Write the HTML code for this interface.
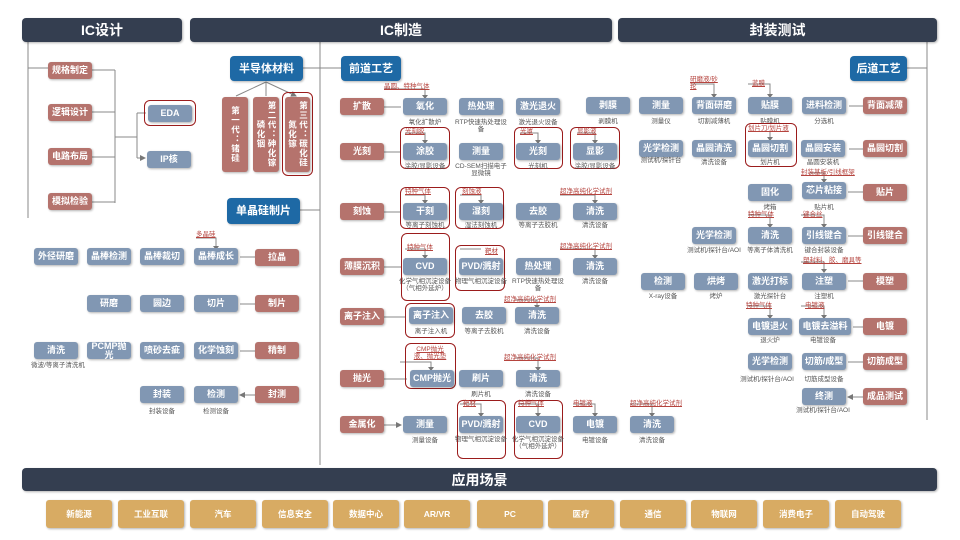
<!DOCTYPE html>
<html><head><meta charset="utf-8"><style>
body{margin:0;width:960px;height:540px;background:#fff;position:relative;overflow:hidden;font-family:"Liberation Sans","Noto Sans CJK SC",sans-serif}
div{position:absolute;box-sizing:border-box}
.h{background:#343e50;color:#fff;font-weight:bold;font-size:14px;border-radius:4px;display:flex;align-items:center;justify-content:center;box-shadow:1px 1px 2px rgba(0,0,0,.3)}
.b{background:#8197b3;color:#fff;font-weight:bold;font-size:9px;line-height:9px;border-radius:3px;display:flex;align-items:center;justify-content:center;text-align:center;box-shadow:1px 1px 2px rgba(0,0,0,.3);width:44px;height:17px;padding:0 2px}
.r{background:#b5736d}
.d{background:#1e69a5;font-size:11px;line-height:12px;border-radius:4px}
.s{color:#555;font-size:6.5px;line-height:7px;text-align:center;width:56px;margin-left:-6px}
.l{color:#b5443e;font-size:6.5px;line-height:7px;text-decoration:underline;white-space:nowrap}
.o{border:1.5px solid #9b1c1c;border-radius:6px}
.y{background:#d8ab63;color:#fff;font-weight:bold;font-size:8.5px;border-radius:3px;display:flex;align-items:center;justify-content:center;box-shadow:1px 1px 2px rgba(0,0,0,.3);top:500px;height:28px;width:66px}
.v{writing-mode:vertical-rl;font-size:8.5px;line-height:11px;padding:4px 0;letter-spacing:1px}
</style></head><body>
<svg width="960" height="540" style="position:absolute;left:0;top:0">
<defs><marker id="a" markerWidth="6" markerHeight="6" refX="5" refY="3" orient="auto"><path d="M0,0L6,3L0,6z" fill="#777"/></marker></defs>
<g stroke="#888" stroke-width="1" fill="none">
<path d="M28,42V218M28,68H48M92,70H115M92,112H115M92,157H115M92,202H115M115,70V203M115,137H137M137,113V158"/>
<path d="M137,113H146M137,158H145" marker-end="url(#a)"/>
<path d="M320,42V465M303,68H320M300,210H320M320,68H341M927,42V420M907,68H927"/>
<path d="M266,82L236,96M266,82V96M266,82L296,96" marker-end="url(#a)"/>
<path d="M255,257H240M255,304H240M255,351H240M255,395H240" marker-end="url(#a)"/>
<path d="M384,107H401M384,152H401M384,212H401M384,267H401M384,317H406M384,379H407M384,425H401" marker-end="url(#a)"/>
<path d="M863,106H849M863,149H849M863,192H848M863,236H848M863,281H848M863,327H853M863,362H848M863,397H848" marker-end="url(#a)"/>
<path d="M196,238H216V246M384,89H425V97M405,133H425V142M520,133H538V142M577,133H595V142M405,195H425V202M460,195H481V202M560,195H595V202M405,249H425V257M460,249H481M560,249H595V257M515,300H537V307M400,362H431V369M515,358H538V369M460,404H481V415M518,404H538V415M573,404H595V415M630,404H652V415M692,84H714V96M748,84H770V96M770,132V139M810,173H824V181M748,215H770V226M801,215H824V226M801,262H824V271M748,306H770V317M801,306H824V317"/>
</g>
<g fill="#777"><path d="M213,246l3,4l3,-4zM422,95l3,4l3,-4zM422,140l3,4l3,-4zM535,140l3,4l3,-4zM592,140l3,4l3,-4zM422,200l3,4l3,-4zM478,200l3,4l3,-4zM592,200l3,4l3,-4zM422,255l3,4l3,-4zM592,255l3,4l3,-4zM534,305l3,4l3,-4zM428,367l3,4l3,-4zM535,367l3,4l3,-4zM478,413l3,4l3,-4zM535,413l3,4l3,-4zM592,413l3,4l3,-4zM649,413l3,4l3,-4zM711,94l3,4l3,-4zM767,94l3,4l3,-4zM767,137l3,4l3,-4zM821,179l3,4l3,-4zM767,224l3,4l3,-4zM821,224l3,4l3,-4zM821,269l3,4l3,-4zM767,315l3,4l3,-4zM821,315l3,4l3,-4z"/></g>
</svg>

<div class="h" style="left:22px;top:18px;width:160px;height:24px">IC设计</div>
<div class="h" style="left:190px;top:18px;width:422px;height:24px">IC制造</div>
<div class="h" style="left:618px;top:18px;width:319px;height:24px">封装测试</div>
<div class="h" style="left:22px;top:468px;width:915px;height:23px">应用场景</div>

<div class="b r" style="left:48px;top:62px">规格制定</div>
<div class="b r" style="left:48px;top:104px">逻辑设计</div>
<div class="b r" style="left:48px;top:148px">电路布局</div>
<div class="b r" style="left:48px;top:193px">模拟检验</div>
<div class="o" style="left:144px;top:100px;width:52px;height:26px"></div>
<div class="b" style="left:148px;top:105px">EDA</div>
<div class="b" style="left:147px;top:151px">IP核</div>

<div class="b d" style="left:230px;top:56px;width:73px;height:25px">半导体材料</div>
<div class="b r v" style="left:222px;top:97px;width:26px;height:75px">第一代：锗硅</div>
<div class="b r v" style="left:253px;top:97px;width:26px;height:75px">第二代：砷化镓 磷化铟</div>
<div class="o" style="left:282px;top:92px;width:31px;height:84px"></div>
<div class="b r v" style="left:285px;top:97px;width:25px;height:75px">第三代：碳化硅 氮化镓</div>
<div class="b d" style="left:227px;top:198px;width:73px;height:26px">单晶硅制片</div>

<div class="l" style="left:196px;top:231px">多晶硅</div>
<div class="b" style="left:34px;top:248px">外径研磨</div>
<div class="b" style="left:87px;top:248px">晶棒检测</div>
<div class="b" style="left:140px;top:248px">晶棒裁切</div>
<div class="b" style="left:194px;top:248px">晶棒成长</div>
<div class="b r" style="left:255px;top:249px">拉晶</div>
<div class="b" style="left:87px;top:295px">研磨</div>
<div class="b" style="left:140px;top:295px">圆边</div>
<div class="b" style="left:194px;top:295px">切片</div>
<div class="b r" style="left:255px;top:295px">制片</div>
<div class="b" style="left:34px;top:342px">清洗</div>
<div class="s" style="left:28px;top:362px;width:60px;margin:0">微波/等离子清洗机</div>
<div class="b" style="left:87px;top:342px">PCMP抛光</div>
<div class="b" style="left:140px;top:342px">喷砂去疵</div>
<div class="b" style="left:194px;top:342px">化学蚀刻</div>
<div class="b r" style="left:255px;top:342px">精制</div>
<div class="b" style="left:140px;top:386px">封装</div>
<div class="s" style="left:140px;top:408px">封装设备</div>
<div class="b" style="left:194px;top:386px">检测</div>
<div class="s" style="left:194px;top:408px">检测设备</div>
<div class="b r" style="left:255px;top:386px">封测</div>

<div class="b d" style="left:341px;top:56px;width:60px;height:25px">前道工艺</div>
<div class="b r" style="left:340px;top:98px">扩散</div>
<div class="l" style="left:384px;top:83px">晶圆、特种气体</div>
<div class="b" style="left:403px;top:98px">氧化</div><div class="s" style="left:403px;top:119px">氧化扩散炉</div>
<div class="b" style="left:459px;top:98px">热处理</div><div class="s" style="left:459px;top:119px">RTP快速热处理设备</div>
<div class="b" style="left:516px;top:98px">激光退火</div><div class="s" style="left:516px;top:119px">激光退火设备</div>
<div class="b" style="left:586px;top:97px">剥膜</div><div class="s" style="left:586px;top:118px">剥膜机</div>
<div class="b" style="left:639px;top:97px">测量</div><div class="s" style="left:639px;top:118px">测量仪</div>

<div class="b r" style="left:340px;top:143px">光刻</div>
<div class="o" style="left:400px;top:127px;width:50px;height:42px"></div>
<div class="l" style="left:405px;top:128px">光刻胶</div>
<div class="b" style="left:403px;top:143px">涂胶</div><div class="s" style="left:403px;top:163px">涂胶/显影设备</div>
<div class="b" style="left:459px;top:143px">测量</div><div class="s" style="left:459px;top:163px">CD-SEM扫描电子显微镜</div>
<div class="o" style="left:514px;top:127px;width:49px;height:42px"></div>
<div class="l" style="left:520px;top:128px">光罩</div>
<div class="b" style="left:516px;top:143px">光刻</div><div class="s" style="left:516px;top:163px">光刻机</div>
<div class="o" style="left:570px;top:127px;width:50px;height:42px"></div>
<div class="l" style="left:577px;top:128px">显影液</div>
<div class="b" style="left:573px;top:143px">显影</div><div class="s" style="left:573px;top:163px">涂胶/显影设备</div>
<div class="b" style="left:639px;top:140px">光学检测</div><div class="s" style="left:639px;top:157px">测试机/探针台</div>
<div class="b" style="left:692px;top:140px">晶圆清洗</div><div class="s" style="left:692px;top:159px">清洗设备</div>

<div class="b r" style="left:340px;top:203px">刻蚀</div>
<div class="o" style="left:400px;top:187px;width:50px;height:42px"></div>
<div class="l" style="left:405px;top:188px">特种气体</div>
<div class="b" style="left:403px;top:203px">干刻</div><div class="s" style="left:403px;top:222px">等离子刻蚀机</div>
<div class="o" style="left:455px;top:187px;width:49px;height:42px"></div>
<div class="l" style="left:462px;top:188px">刻蚀液</div>
<div class="b" style="left:459px;top:203px">湿刻</div><div class="s" style="left:459px;top:222px">湿法刻蚀机</div>
<div class="b" style="left:516px;top:203px">去胶</div><div class="s" style="left:516px;top:222px">等离子去胶机</div>
<div class="l" style="left:560px;top:188px">超净高纯化学试剂</div>
<div class="b" style="left:573px;top:203px">清洗</div><div class="s" style="left:573px;top:222px">清洗设备</div>

<div class="b r" style="left:340px;top:258px">薄膜沉积</div>
<div class="o" style="left:401px;top:233px;width:49px;height:68px"></div>
<div class="l" style="left:407px;top:244px">特种气体</div>
<div class="b" style="left:403px;top:258px">CVD</div><div class="s" style="left:403px;top:278px">化学气相沉淀设备（气相外延炉）</div>
<div class="o" style="left:455px;top:245px;width:50px;height:46px"></div>
<div class="l" style="left:485px;top:248px">靶材</div>
<div class="b" style="left:459px;top:258px">PVD/溅射</div><div class="s" style="left:459px;top:278px">物理气相沉淀设备</div>
<div class="b" style="left:516px;top:258px">热处理</div><div class="s" style="left:516px;top:278px">RTP快速热处理设备</div>
<div class="l" style="left:560px;top:243px">超净高纯化学试剂</div>
<div class="b" style="left:573px;top:258px">清洗</div><div class="s" style="left:573px;top:278px">清洗设备</div>

<div class="b r" style="left:340px;top:308px">离子注入</div>
<div class="o" style="left:405px;top:303px;width:50px;height:35px"></div>
<div class="b" style="left:409px;top:307px">离子注入</div><div class="s" style="left:409px;top:328px">离子注入机</div>
<div class="b" style="left:462px;top:307px">去胶</div><div class="s" style="left:462px;top:328px">等离子去胶机</div>
<div class="l" style="left:504px;top:296px">超净高纯化学试剂</div>
<div class="b" style="left:515px;top:307px">清洗</div><div class="s" style="left:515px;top:328px">清洗设备</div>

<div class="b r" style="left:340px;top:370px">抛光</div>
<div class="o" style="left:405px;top:343px;width:51px;height:46px"></div>
<div class="l" style="left:410px;top:346px;text-align:center;width:40px;white-space:normal">CMP抛光液、抛光垫</div>
<div class="b" style="left:410px;top:370px">CMP抛光</div>
<div class="b" style="left:459px;top:370px">刷片</div><div class="s" style="left:459px;top:391px">刷片机</div>
<div class="l" style="left:504px;top:354px">超净高纯化学试剂</div>
<div class="b" style="left:516px;top:370px">清洗</div><div class="s" style="left:516px;top:391px">清洗设备</div>

<div class="b r" style="left:340px;top:416px">金属化</div>
<div class="b" style="left:403px;top:416px">测量</div><div class="s" style="left:403px;top:437px">测量设备</div>
<div class="o" style="left:457px;top:400px;width:49px;height:59px"></div>
<div class="l" style="left:463px;top:400px">靶材</div>
<div class="b" style="left:459px;top:416px">PVD/溅射</div><div class="s" style="left:459px;top:436px">物理气相沉淀设备</div>
<div class="o" style="left:514px;top:400px;width:49px;height:59px"></div>
<div class="l" style="left:518px;top:400px">特种气体</div>
<div class="b" style="left:516px;top:416px">CVD</div><div class="s" style="left:516px;top:436px">化学气相沉淀设备（气相外延炉）</div>
<div class="l" style="left:573px;top:400px">电镀液</div>
<div class="b" style="left:573px;top:416px">电镀</div><div class="s" style="left:573px;top:437px">电镀设备</div>
<div class="l" style="left:630px;top:400px">超净高纯化学试剂</div>
<div class="b" style="left:630px;top:416px">清洗</div><div class="s" style="left:630px;top:437px">清洗设备</div>

<div class="b d" style="left:850px;top:56px;width:57px;height:25px">后道工艺</div>
<div class="l" style="left:690px;top:76px;width:34px;white-space:normal">研磨液/砂轮</div>
<div class="b" style="left:692px;top:97px">背面研磨</div><div class="s" style="left:692px;top:118px">切割减薄机</div>
<div class="l" style="left:752px;top:80px">蓝膜</div>
<div class="b" style="left:748px;top:97px">贴膜</div><div class="s" style="left:748px;top:118px">贴膜机</div>
<div class="b" style="left:802px;top:97px">进料检测</div><div class="s" style="left:802px;top:118px">分选机</div>
<div class="b r" style="left:863px;top:97px">背面减薄</div>
<div class="o" style="left:745px;top:123px;width:52px;height:44px"></div>
<div class="l" style="left:748px;top:125px">划片刀/划片液</div>
<div class="b" style="left:748px;top:140px">晶圆切割</div><div class="s" style="left:748px;top:159px">划片机</div>
<div class="b" style="left:801px;top:140px">晶圆安装</div><div class="s" style="left:801px;top:159px">晶圆安装机</div>
<div class="b r" style="left:863px;top:140px">晶圆切割</div>
<div class="l" style="left:801px;top:169px">封装基板/引线框架</div>
<div class="b" style="left:748px;top:184px">固化</div><div class="s" style="left:748px;top:204px">烤箱</div>
<div class="b" style="left:802px;top:182px">芯片粘接</div><div class="s" style="left:802px;top:204px">贴片机</div>
<div class="b r" style="left:863px;top:184px">贴片</div>
<div class="l" style="left:748px;top:211px">特种气体</div>
<div class="l" style="left:803px;top:211px">键合丝</div>
<div class="b" style="left:692px;top:227px">光学检测</div><div class="s" style="left:692px;top:247px">测试机/探针台/AOI</div>
<div class="b" style="left:748px;top:227px">清洗</div><div class="s" style="left:748px;top:247px">等离子体清洗机</div>
<div class="b" style="left:802px;top:227px">引线键合</div><div class="s" style="left:802px;top:247px">键合封装设备</div>
<div class="b r" style="left:863px;top:227px">引线键合</div>
<div class="l" style="left:803px;top:257px">塑封料、胶、磨具等</div>
<div class="b" style="left:641px;top:273px">检测</div><div class="s" style="left:641px;top:293px">X-ray设备</div>
<div class="b" style="left:694px;top:273px">烘烤</div><div class="s" style="left:694px;top:293px">烤炉</div>
<div class="b" style="left:748px;top:273px">激光打标</div><div class="s" style="left:748px;top:293px">激光探针台</div>
<div class="b" style="left:802px;top:273px">注塑</div><div class="s" style="left:802px;top:293px">注塑机</div>
<div class="b r" style="left:863px;top:273px">模塑</div>
<div class="l" style="left:746px;top:302px">特种气体</div>
<div class="l" style="left:805px;top:302px">电镀液</div>
<div class="b" style="left:748px;top:318px">电镀退火</div><div class="s" style="left:748px;top:337px">退火炉</div>
<div class="b" style="left:799px;top:318px;width:52px">电镀去溢料</div><div class="s" style="left:801px;top:337px">电镀设备</div>
<div class="b r" style="left:863px;top:318px">电镀</div>
<div class="b" style="left:748px;top:353px">光学检测</div><div class="s" style="left:740px;top:376px;width:70px;margin:0 0 0 -8px">测试机/探针台/AOI</div>
<div class="b" style="left:802px;top:353px">切筋/成型</div><div class="s" style="left:802px;top:376px">切筋成型设备</div>
<div class="b r" style="left:863px;top:353px">切筋成型</div>
<div class="b" style="left:802px;top:388px">终测</div><div class="s" style="left:796px;top:407px;width:66px">测试机/探针台/AOI</div>
<div class="b r" style="left:863px;top:388px">成品测试</div>

<div class="y" style="left:46px">新能源</div>
<div class="y" style="left:118px">工业互联</div>
<div class="y" style="left:190px">汽车</div>
<div class="y" style="left:262px">信息安全</div>
<div class="y" style="left:333px">数据中心</div>
<div class="y" style="left:404px">AR/VR</div>
<div class="y" style="left:477px">PC</div>
<div class="y" style="left:548px">医疗</div>
<div class="y" style="left:620px">通信</div>
<div class="y" style="left:691px">物联网</div>
<div class="y" style="left:763px">消费电子</div>
<div class="y" style="left:835px">自动驾驶</div>
</body></html>
